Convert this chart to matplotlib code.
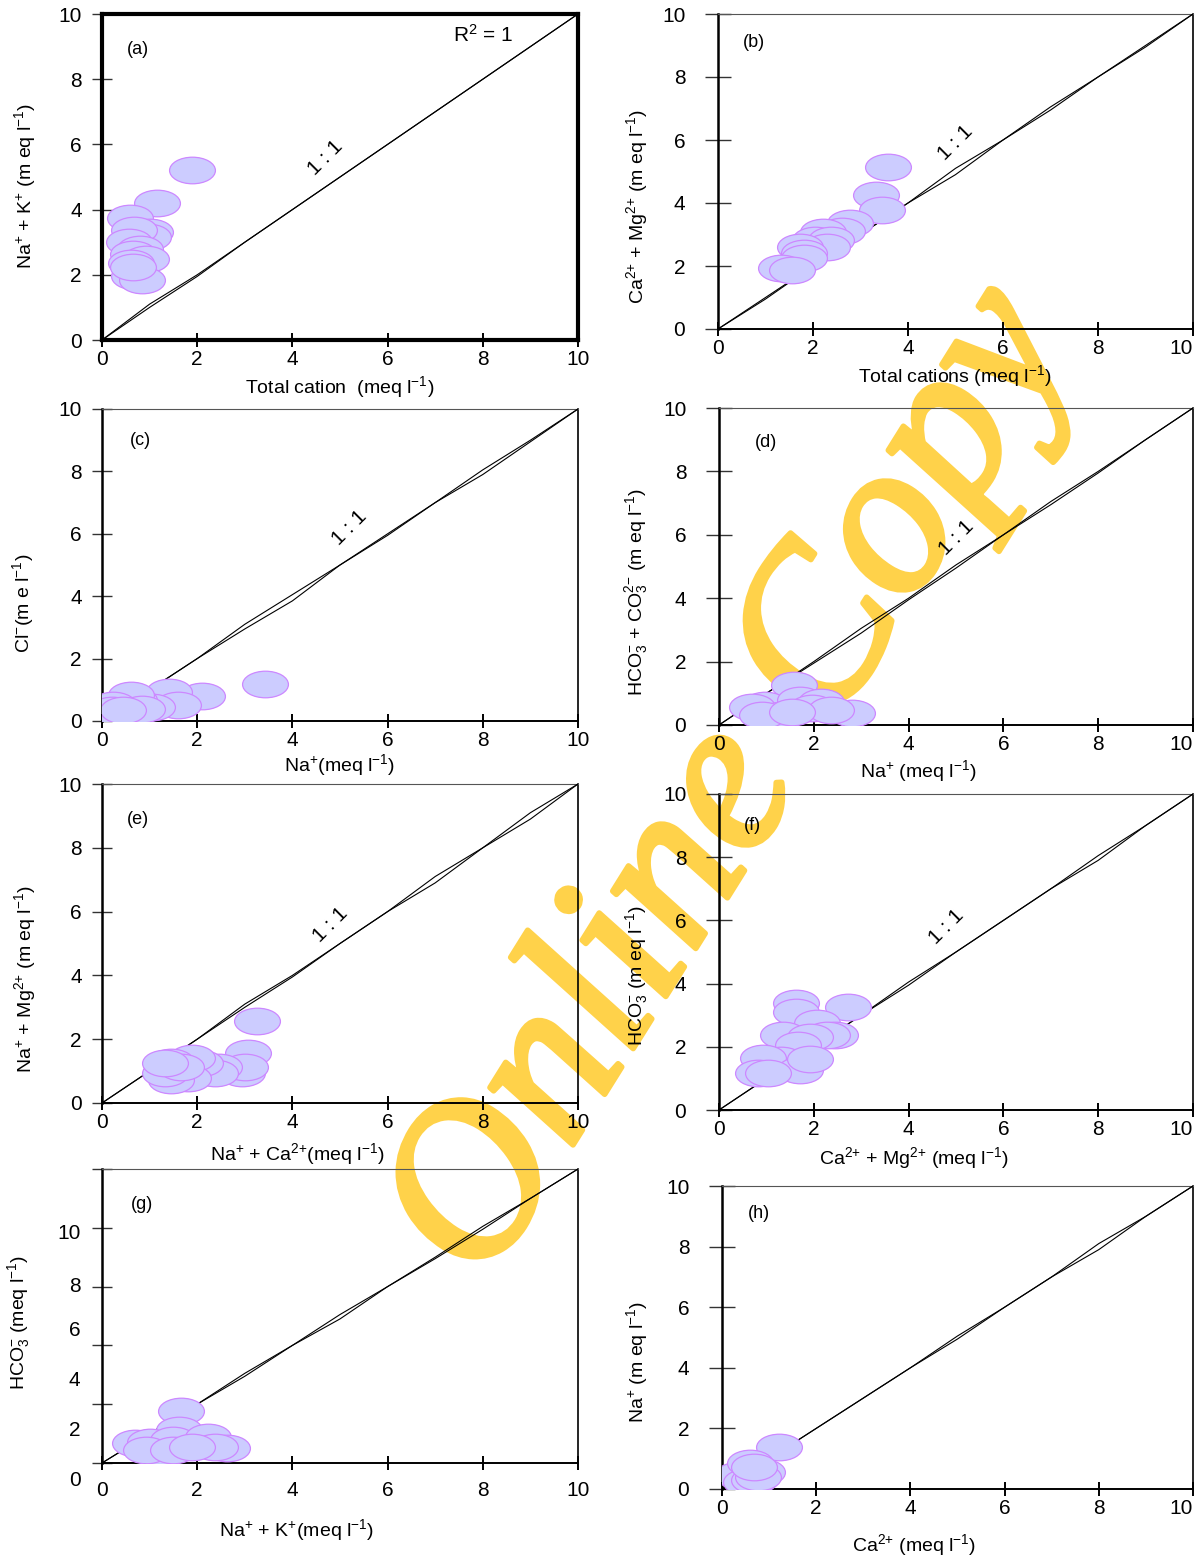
import numpy as np
import matplotlib
matplotlib.use('Agg')
import matplotlib.pyplot as plt
import matplotlib.patheffects as pe
from matplotlib.path import Path

plt.rcParams['font.family'] = ['Liberation Sans', 'DejaVu Sans']
plt.rcParams['mathtext.fontset'] = 'custom'
plt.rcParams['mathtext.rm'] = 'Liberation Sans'
plt.rcParams['mathtext.it'] = 'Liberation Sans'
plt.rcParams['mathtext.default'] = 'regular'

W, H = 1197, 1555

# ---- data (meq/l) ----
a_x = [1.9, 1.15, 0.58, 1.0, 0.97, 0.68, 0.56, 0.8, 0.65, 0.93, 0.6, 0.68, 0.85, 0.65]
a_y = [5.2, 4.2, 3.73, 3.3, 3.15, 3.37, 3.0, 2.8, 2.65, 2.5, 2.35, 1.95, 1.85, 2.25]

b_x = [3.58, 3.33, 3.45, 2.78, 2.6, 2.2, 2.04, 2.38, 2.3, 1.73, 1.81, 1.81, 1.33, 1.56]
b_y = [5.15, 4.25, 3.78, 3.35, 3.1, 3.08, 2.83, 2.83, 2.6, 2.6, 2.4, 2.25, 1.93, 1.87]

c_x = [3.43, 2.1, 1.4, 1.6, 1.05, 0.68, 0.6, 0.24, 0.2, 0.85, 0.44]
c_y = [1.18, 0.8, 0.93, 0.5, 0.45, 0.67, 0.83, 0.5, 0.35, 0.4, 0.35]

d_x = [1.58, 0.97, 0.7, 1.71, 2.15, 2.8, 1.96, 1.3, 0.9, 2.36, 1.54]
d_y = [1.26, 0.63, 0.57, 0.78, 0.73, 0.38, 0.53, 0.32, 0.32, 0.47, 0.41]

e_x = [3.26, 3.07, 2.94, 3.0, 2.46, 2.37, 2.06, 1.9, 1.81, 1.45, 1.45, 1.33, 1.66, 1.33]
e_y = [2.57, 1.57, 0.94, 1.13, 1.13, 0.94, 1.25, 1.4, 0.78, 0.72, 1.28, 0.94, 1.13, 1.25]

f_x = [1.62, 1.62, 2.72, 2.07, 2.45, 2.28, 1.35, 1.92, 1.67, 1.31, 0.93, 0.82, 1.71, 1.92, 1.03]
f_y = [3.39, 3.1, 3.26, 2.75, 2.37, 2.37, 2.37, 2.3, 2.05, 1.58, 1.64, 1.17, 1.27, 1.61, 1.17]

g_x = [1.66, 1.62, 0.69, 1.0, 1.49, 2.22, 2.63, 2.37, 1.26, 0.92, 1.49, 1.89]
g_y = [1.77, 1.12, 0.68, 0.71, 0.78, 0.88, 0.51, 0.54, 0.34, 0.44, 0.44, 0.54]

h_x = [1.21, 0.34, 0.51, 0.68, 0.85, 0.76, 0.59, 0.68]
h_y = [1.39, 0.46, 0.23, 0.3, 0.56, 0.4, 0.86, 0.73]

# hand-drawn 1:1 reference lines (two strokes each)
ref_x = [0, 1, 2, 3, 4, 5, 6, 7, 8, 9, 10]
a_up = [0, 1.1, 2, 3, 4, 5, 6, 7, 8, 9, 10]
a_lo = [0, 1.0, 1.95, 3, 4, 5, 6, 7, 8, 9, 10]
b_up = [0, 1, 2, 3, 4, 5.1, 6, 7.05, 8, 9, 10]
b_lo = [0, 0.95, 2, 3, 4, 4.9, 6, 6.95, 8, 8.95, 10]
c_up = [0, 1, 2, 3.1, 4.05, 5, 6, 7, 8.05, 9, 10]
c_lo = [0, 1, 2, 2.95, 3.85, 5, 5.95, 7, 7.9, 8.95, 10]
d_up = [0, 1, 2, 3.05, 4, 5.05, 6, 7.05, 8, 9, 10]
d_lo = [0, 1, 1.95, 2.9, 3.95, 4.95, 6, 6.95, 7.95, 9, 10]
e_up = [0, 1, 2, 3.1, 4, 5, 6, 7.1, 8, 9.1, 10]
e_lo = [0, 1, 2, 3.0, 3.95, 5, 6, 6.9, 8, 8.9, 10]
f_up = [0, 1, 2, 3, 4.05, 5, 6, 7, 8.05, 9, 10]
f_lo = [0, 1, 2, 3, 3.95, 5, 6, 7, 7.9, 9, 10]
g_up = [0, 1, 2, 3.05, 4, 5.05, 6, 7, 8.05, 9, 10]
g_lo = [0, 1, 2, 2.95, 4, 4.9, 6, 6.95, 7.95, 9, 10]
h_up = [0, 1, 2, 3, 4, 5.05, 6, 7, 8.1, 9, 10]
h_lo = [0, 1, 2, 3, 4, 4.95, 6, 7, 7.9, 9, 10]

ticks = [0, 2, 4, 6, 8, 10]
tick_labels = ['0', '2', '4', '6', '8', '10']
# panel (g) has its y labels drawn out of step with its tick marks ('0' ... '10')
g_ylabel_pos = [-0.58, 1.12, 2.82, 4.52, 6.0, 7.82]

panels = [
    dict(tag='(a)', x=a_x, y=a_y, up=a_up, lo=a_lo, box=(102, 578, 14, 340),
         xlabel='Total cation  (meq l$^{-1}$)', ylabel='Na$^{+}$ + K$^{+}$ (m eq l$^{-1}$)',
         xl=(340, 374), yl=(38, 186), one=(4.7, 5.6), tagpos=(0.76, 8.9)),
    dict(tag='(b)', x=b_x, y=b_y, up=b_up, lo=b_lo, box=(718, 1193, 14, 329),
         xlabel='Total cations (meq l$^{-1}$)', ylabel='Ca$^{2{+}}$ + Mg$^{2{+}}$ (m eq l$^{-1}$)',
         xl=(955, 363), yl=(650, 206), one=(5.0, 5.9), tagpos=(0.76, 9.1)),
    dict(tag='(c)', x=c_x, y=c_y, up=c_up, lo=c_lo, box=(102, 578, 409, 721),
         xlabel='Na$^{+}$(meq l$^{-1}$)', ylabel='Cl$^{-}$(m e l$^{-1}$)',
         xl=(340, 752), yl=(36, 603), one=(5.2, 6.2), tagpos=(0.8, 9.0)),
    dict(tag='(d)', x=d_x, y=d_y, up=d_up, lo=d_lo, box=(719, 1193, 408, 725),
         xlabel='Na$^{+}$ (meq l$^{-1}$)',
         ylabel='HCO$_{3}^{-}$ + CO$_{3}^{2{-}}$ (m eq l$^{-1}$)',
         xl=(918, 758), yl=(650, 592), one=(5.0, 5.9), tagpos=(1.0, 8.9)),
    dict(tag='(e)', x=e_x, y=e_y, up=e_up, lo=e_lo, box=(102, 578, 784, 1103),
         xlabel='Na$^{+}$ + Ca$^{2{+}}$(meq l$^{-1}$)', ylabel='Na$^{+}$ + Mg$^{2{+}}$ (m eq l$^{-1}$)',
         xl=(297, 1141), yl=(38, 979), one=(4.8, 5.6), tagpos=(0.76, 8.9)),
    dict(tag='(f)', x=f_x, y=f_y, up=f_up, lo=f_lo, box=(719, 1193, 794, 1110),
         xlabel='Ca$^{2{+}}$ + Mg$^{2{+}}$ (meq l$^{-1}$)', ylabel='HCO$_{3}^{-}$ (m eq l$^{-1}$)',
         xl=(914, 1145), yl=(650, 976), one=(4.8, 5.8), tagpos=(0.71, 9.0)),
    dict(tag='(g)', x=g_x, y=g_y, up=g_up, lo=g_lo, box=(102, 578, 1169, 1463),
         xlabel='Na$^{+}$ + K$^{+}$(meq l$^{-1}$)', ylabel='HCO$_{3}^{-}$ (meq l$^{-1}$)',
         xl=(297, 1517), yl=(32, 1322), one=None, tagpos=(0.84, 8.8)),
    dict(tag='(h)', x=h_x, y=h_y, up=h_up, lo=h_lo, box=(722, 1193, 1186, 1489),
         xlabel='Ca$^{2{+}}$ (meq l$^{-1}$)', ylabel='Na$^{+}$ (m eq l$^{-1}$)',
         xl=(914, 1532), yl=(650, 1362), one=None, tagpos=(0.79, 9.1)),
]

t = Path.unit_circle()
ellipse = Path(t.vertices * np.array([1.0, 0.58]), t.codes)

fig = plt.figure(figsize=(W / 100, H / 100), dpi=100)

# watermark sits behind the panels
fig.text(0.615, 0.495, 'Online Copy', rotation=58, fontsize=158,
         family='Liberation Serif', style='italic', color='#ffd24a',
         ha='center', va='center', zorder=-1,
         path_effects=[pe.withStroke(linewidth=4, foreground='#ffd24a')])

for i, p in enumerate(panels):
    x0, x1, y0, y1 = p['box']
    ax = fig.add_axes([x0 / W, 1 - y1 / H, (x1 - x0) / W, (y1 - y0) / H])
    ax.set_facecolor('none')
    right_col = i % 2 == 1

    ax.plot(ref_x, p['up'], color='black', lw=0.8, zorder=3)
    ax.plot(ref_x, p['lo'], color='black', lw=0.8, zorder=3)
    ax.scatter(p['x'], p['y'], s=1090, marker=ellipse, facecolor='#ccccff',
               edgecolor='#cc88ff', linewidth=0.9, zorder=4)

    ax.set_xlim(0, 10)
    ax.set_ylim(0, 10)
    ax.set_xticks(ticks, tick_labels, fontsize=15)
    ax.tick_params(axis='x', direction='inout', length=10, width=1.4, pad=2)
    if right_col:
        ax.get_xticklabels()[-1].set_horizontalalignment('right')
    ylen = 19 if right_col else 15
    ypad = 14 if right_col else 7
    if p['tag'] == '(g)':
        ax.set_yticks(ticks, [])
        for v, s in zip(g_ylabel_pos, tick_labels):
            ax.text(-0.045, v, s, transform=ax.get_yaxis_transform(),
                    ha='right', va='center', fontsize=15)
        ax.tick_params(axis='x', pad=8)
    else:
        ax.set_yticks(ticks, tick_labels, fontsize=15)
    ax.tick_params(axis='y', direction='inout', length=ylen, width=1.0,
                   color='#333333', pad=ypad)

    if p['tag'] == '(a)':
        for sp in ax.spines.values():
            sp.set_linewidth(3.0)
    else:
        ax.spines['left'].set_linewidth(1.8)
        ax.spines['bottom'].set_linewidth(1.4)
        ax.spines['top'].set_linewidth(0.8)
        ax.spines['top'].set_color('#555555')
        ax.spines['right'].set_linewidth(1.2)

    ax.set_xlabel(p['xlabel'], fontsize=14)
    ax.xaxis.set_label_coords((p['xl'][0] - x0) / (x1 - x0), (y1 - p['xl'][1]) / (y1 - y0))
    ax.set_ylabel(p['ylabel'], fontsize=14)
    ax.yaxis.set_label_coords((p['yl'][0] - x0) / (x1 - x0), (y1 - p['yl'][1]) / (y1 - y0))

    ax.text(p['tagpos'][0], p['tagpos'][1], p['tag'], fontsize=13, ha='center', va='center')
    if p['one'] is not None:
        ax.text(p['one'][0], p['one'][1], '1 : 1', fontsize=15, rotation=45,
                ha='center', va='center')
    if p['tag'] == '(a)':
        ax.text(8.0, 9.35, 'R$^{2}$ = 1', fontsize=15, ha='center', va='center')

fig.savefig('out.png', dpi=100)
